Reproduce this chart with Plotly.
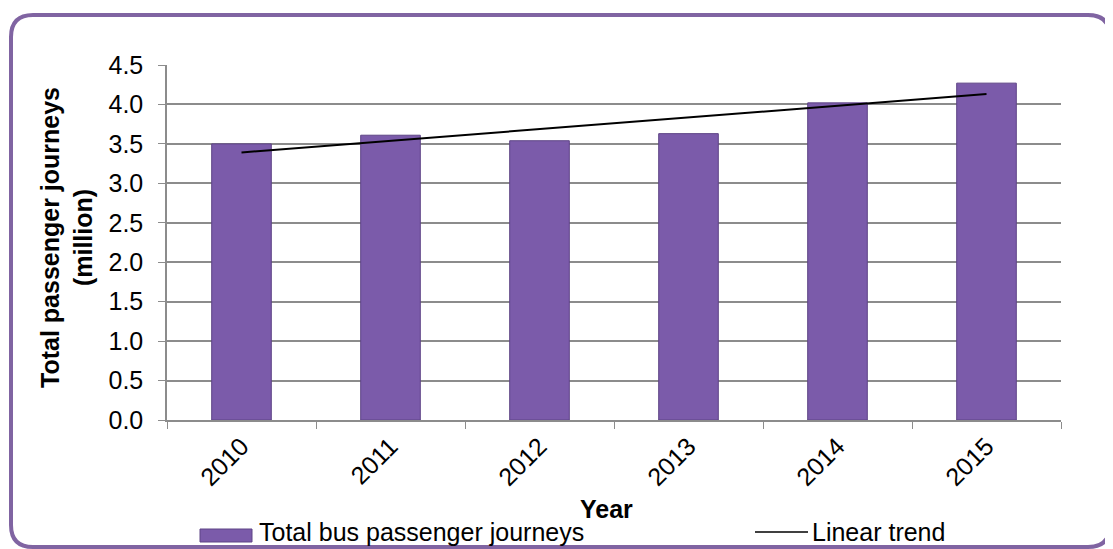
import numpy as np
import plotly.graph_objects as go

# data
years = ["2010", "2011", "2012", "2013", "2014", "2015"]
journeys = [3.50, 3.61, 3.54, 3.63, 4.02, 4.27]  # million
y_ticks = [0.0, 0.5, 1.0, 1.5, 2.0, 2.5, 3.0, 3.5, 4.0, 4.5]

# linear trend fitted to the bar values
idx = np.arange(len(years))
slope, intercept = np.polyfit(idx, journeys, 1)
trend = slope * idx + intercept

# the page puts the figure 8px in from the top-left corner
OFF = 8
W, H = 1113 - OFF, 549 - OFF
# plot area in screen pixels
X0, X1, Y0, Y1 = 167, 1061, 65, 420
L, R, T, B = X0 - OFF, W - (X1 - OFF), Y0 - OFF, H - (Y1 - OFF)
PW, PH = X1 - X0, Y1 - Y0

FONT = "Liberation Sans, Arial, sans-serif"
PURPLE = "#7B5BAA"
EDGE = "#5E4486"
GRID = "#8c8c8c"


def px(x):
    return (x - X0) / PW


def py(y):
    return (Y1 - y) / PH


def rounded_box(x0, y0, x1, y1, r):
    pts = [
        f"M {px(x0 + r)} {py(y0)}",
        f"L {px(x1 - r)} {py(y0)}",
        f"Q {px(x1)} {py(y0)} {px(x1)} {py(y0 + r)}",
        f"L {px(x1)} {py(y1 - r)}",
        f"Q {px(x1)} {py(y1)} {px(x1 - r)} {py(y1)}",
        f"L {px(x0 + r)} {py(y1)}",
        f"Q {px(x0)} {py(y1)} {px(x0)} {py(y1 - r)}",
        f"L {px(x0)} {py(y0 + r)}",
        f"Q {px(x0)} {py(y0)} {px(x0 + r)} {py(y0)}",
        "Z",
    ]
    return " ".join(pts)


fig = go.Figure()

fig.add_trace(go.Bar(
    x=years, y=journeys, name="Total bus passenger journeys",
    marker=dict(color=PURPLE, line=dict(color=EDGE, width=1)),
    showlegend=False,
))

fig.add_trace(go.Scatter(
    x=years, y=trend, mode="lines", name="Linear trend",
    line=dict(color="black", width=2),
    showlegend=False,
))

shapes = [
    # outer rounded frame
    dict(type="path", xref="paper", yref="paper",
         path=rounded_box(11, 15, 1110, 547, 22),
         line=dict(color="#8064A2", width=4), layer="below"),
    # legend: bar swatch
    dict(type="rect", xref="paper", yref="paper",
         x0=px(200), x1=px(252), y0=py(529), y1=py(542),
         fillcolor=PURPLE, line=dict(color=EDGE, width=1)),
    # legend: trend line
    dict(type="line", xref="paper", yref="paper",
         x0=px(755), x1=px(808), y0=py(532), y1=py(532),
         line=dict(color="black", width=1.5)),
]

annotations = [
    dict(text="<b>Total passenger journeys</b><br><b>(million)</b>",
         xref="paper", yref="paper", x=px(66), y=py(238),
         showarrow=False, textangle=-90,
         font=dict(family=FONT, size=25, color="black"),
         xanchor="center", yanchor="middle"),
    dict(text="<b>Year</b>", xref="paper", yref="paper",
         x=px(606), y=py(509), showarrow=False,
         font=dict(family=FONT, size=25, color="black"),
         xanchor="center", yanchor="middle"),
    dict(text="Total bus passenger journeys", xref="paper", yref="paper",
         x=px(257), y=py(532), showarrow=False,
         font=dict(family=FONT, size=25, color="black"),
         xanchor="left", yanchor="middle"),
    dict(text="Linear trend", xref="paper", yref="paper",
         x=px(810), y=py(532), showarrow=False,
         font=dict(family=FONT, size=25, color="black"),
         xanchor="left", yanchor="middle"),
]

fig.update_layout(
    width=W, height=H,
    margin=dict(l=L, r=R, t=T, b=B),
    paper_bgcolor="white", plot_bgcolor="white",
    font=dict(family=FONT, size=25, color="black"),
    bargap=0.6,
    shapes=shapes,
    annotations=annotations,
)

fig.update_xaxes(
    type="category", range=[-0.5, 5.5],
    tickangle=-45, tickfont=dict(size=25),
    ticks="outside", tickson="boundaries", ticklen=7, tickcolor=GRID,
    showline=True, linecolor=GRID, linewidth=1.5,
    showgrid=False,
)

fig.update_yaxes(
    range=[0, 4.5], tickvals=y_ticks, tickformat=".1f",
    tickfont=dict(size=25),
    ticks="outside", ticklen=7, tickcolor=GRID,
    showline=True, linecolor=GRID, linewidth=1.5,
    showgrid=True, gridcolor=GRID, gridwidth=1.5,
    zeroline=False, ticklabelstandoff=10,
)

fig.write_html("out.html")
